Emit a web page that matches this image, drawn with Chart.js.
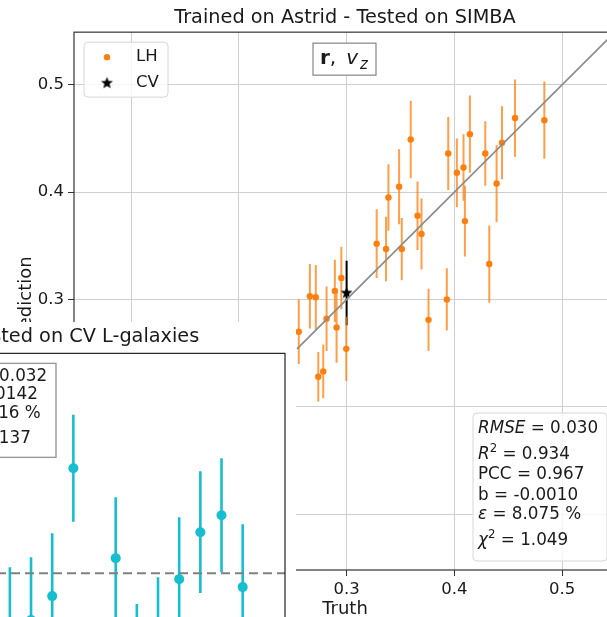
<!DOCTYPE html>
<html>
<head>
<meta charset="utf-8">
<script src="https://cdn.jsdelivr.net/npm/chart.js@4.4.1/dist/chart.umd.min.js"></script>
<style>
  html, body { margin: 0; padding: 0; background: #fff; overflow: hidden; }
  #wrap { position: relative; width: 607px; height: 617px; overflow: hidden; }
  #main { position: absolute; left: 0; top: 0; width: 640px; height: 640px; }
  #cv { position: absolute; left: -320px; top: 322px; width: 616px; height: 400px; }
</style>
</head>
<body>
<div id="wrap">
  <canvas id="main" width="640" height="640"></canvas>
  <canvas id="cv" width="616" height="400"></canvas>
</div>
<script>
// LH test set: true value, predicted mean, 1-sigma error
const lhTruth = [0.2556, 0.2659, 0.2714, 0.2737, 0.2783, 0.2814, 0.2891, 0.2907, 0.2951, 0.2997,
                 0.3279, 0.3366, 0.3388, 0.3487, 0.3512, 0.3595, 0.3658, 0.3695, 0.3760, 0.3930,
                 0.3943, 0.4023, 0.4085, 0.4098, 0.4144, 0.4287, 0.4324, 0.4392, 0.4442, 0.4563, 0.4835];
const lhPred  = [0.270, 0.303, 0.302, 0.228, 0.233, 0.282, 0.308, 0.274, 0.320, 0.254,
                 0.352, 0.347, 0.395, 0.405, 0.347, 0.449, 0.378, 0.361, 0.281, 0.300,
                 0.436, 0.418, 0.423, 0.373, 0.454, 0.436, 0.333, 0.408, 0.446, 0.469, 0.467];
const lhErr   = [0.030, 0.030, 0.030, 0.023, 0.025, 0.030, 0.029, 0.033, 0.029, 0.030,
                 0.032, 0.030, 0.031, 0.035, 0.029, 0.036, 0.032, 0.033, 0.029, 0.029,
                 0.034, 0.032, 0.031, 0.033, 0.036, 0.030, 0.036, 0.036, 0.034, 0.036, 0.036];

// CV mean point
const cvMeanTruth = 0.300;
const cvMeanPred = 0.306;
const cvMeanErr = 0.030;

// identity line ends
const diagRange = [0.254, 0.56];
const tickVals = [0.1, 0.2, 0.3, 0.4, 0.5];

const mainStats = [
  [{t: 'RMSE', it: 1}, {t: ' = 0.030'}],
  [{t: 'R', it: 1}, {t: '2', sup: 1}, {t: ' = 0.934'}],
  [{t: 'PCC = 0.967'}],
  [{t: 'b = -0.0010'}],
  [{t: 'ε', it: 1}, {t: ' = 8.075 %'}],
  [{t: 'χ', it: 1}, {t: '2', sup: 1}, {t: ' = 1.049'}]
];

// CV L-galaxies: simulation index, prediction, error
const cvIndex = [14, 15, 16, 17, 19, 20, 21, 22, 23, 24, 25];
const cvPred  = [0.2755, 0.2765, 0.2885, 0.3525, 0.3075, 0.2555, 0.2685, 0.2970, 0.3205, 0.3290, 0.2930];
const cvErr   = [0.0275, 0.0315, 0.0315, 0.0268, 0.0305, 0.0290, 0.0295, 0.0310, 0.0305, 0.0285, 0.0315];
const cvTruth = 0.30;

const cvStats = [
  [{t: 'RMSE', it: 1}, {t: ' = 0.032'}],
  [{t: 'b = -0.00142'}],
  [{t: 'ε', it: 1}, {t: ' = 10.316 %'}],
  [{t: 'χ', it: 1}, {t: '2', sup: 1, gap: 3}, {t: ' = 10.137'}]
];

const FAMILY = "'DejaVu Sans', sans-serif";
const TXT = '#1a1a1a';
Chart.defaults.font.family = FAMILY;
Chart.defaults.color = TXT;

function starCanvas(r, color) {
  const s = Math.ceil(r * 2 + 2);
  const c = document.createElement('canvas');
  c.width = c.height = s;
  const g = c.getContext('2d');
  g.fillStyle = color;
  g.beginPath();
  for (let k = 0; k < 10; k++) {
    const a = -Math.PI / 2 + k * Math.PI / 5;
    const rr = k % 2 ? r * 0.42 : r;
    g.lineTo(s / 2 + rr * Math.cos(a), s / 2 + rr * Math.sin(a));
  }
  g.closePath();
  g.fill();
  return c;
}
const star = starCanvas(6.3, '#000');

// text with italic / bold / superscript / subscript runs
function drawRuns(ctx, x, y, runs, size) {
  ctx.textBaseline = 'alphabetic';
  ctx.textAlign = 'left';
  ctx.fillStyle = TXT;
  runs.forEach(r => {
    const sz = r.sup || r.sub ? size * 0.7 : size;
    ctx.font = (r.it ? 'italic ' : '') + (r.b ? 'bold ' : '') + sz + 'px ' + FAMILY;
    const dy = r.sup ? -size * 0.42 : r.sub ? size * 0.25 : 0;
    ctx.fillText(r.t, x, y + dy);
    x += ctx.measureText(r.t).width + (r.gap || 0);
  });
  return x;
}

function roundBox(ctx, x, y, w, h, r, fill, stroke, lw) {
  ctx.beginPath();
  ctx.roundRect(x, y, w, h, r);
  ctx.fillStyle = fill;
  ctx.fill();
  ctx.lineWidth = lw;
  ctx.strokeStyle = stroke;
  ctx.stroke();
}

const errorBars = {
  id: 'errorBars',
  beforeDatasetsDraw(chart) {
    const {ctx, chartArea: ca, scales: {x, y}} = chart;
    ctx.save();
    ctx.beginPath();
    ctx.rect(ca.left, ca.top, ca.width, ca.height);
    ctx.clip();
    chart.data.datasets.forEach(ds => {
      if (!ds.errors) return;
      ctx.strokeStyle = ds.errColor;
      ctx.lineWidth = ds.errWidth;
      ds.data.forEach((p, i) => {
        const px = x.getPixelForValue(p.x);
        ctx.beginPath();
        ctx.moveTo(px, y.getPixelForValue(p.y - ds.errors[i]));
        ctx.lineTo(px, y.getPixelForValue(p.y + ds.errors[i]));
        ctx.stroke();
      });
    });
    ctx.restore();
  }
};

const mainDecor = {
  id: 'mainDecor',
  afterDraw(chart) {
    const {ctx, chartArea: ca} = chart;
    ctx.save();
    // spines
    ctx.strokeStyle = '#333';
    ctx.lineWidth = 1.2;
    ctx.strokeRect(ca.left, ca.top, ca.width, ca.height);

    // legend
    const lx = ca.left + 10, ly = ca.top + 10;
    roundBox(ctx, lx, ly, 84, 55, 4, 'rgba(255,255,255,0.8)', '#d6d6d6', 1);
    ctx.fillStyle = '#ff7f0e';
    ctx.beginPath();
    ctx.arc(lx + 23, ly + 15, 3.2, 0, Math.PI * 2);
    ctx.fill();
    ctx.drawImage(star, lx + 23 - star.width / 2, ly + 41 - star.height / 2);
    ctx.font = '16.5px ' + FAMILY;
    ctx.fillStyle = TXT;
    ctx.textBaseline = 'middle';
    ctx.fillText('LH', lx + 52, ly + 15);
    ctx.fillText('CV', lx + 52, ly + 41);

    // feature label box
    const bx = ca.left + ca.width / 2 - 32, by = ca.top + 11;
    ctx.fillStyle = '#fff';
    ctx.fillRect(bx, by, 63, 32);
    ctx.strokeStyle = '#858585';
    ctx.lineWidth = 1.2;
    ctx.strokeRect(bx, by, 63, 32);
    drawRuns(ctx, bx + 7, by + 21, [{t: 'r', b: 1}, {t: ',', gap: 10}, {t: 'v', it: 1}], 20);
    drawRuns(ctx, bx + 47, by + 26, [{t: 'z', it: 1}], 15);

    // statistics box
    const sx = ca.right - 143, sy = ca.bottom - 157;
    roundBox(ctx, sx, sy, 134, 148, 4, 'rgba(255,255,255,0.8)', '#d6d6d6', 1);
    const rows = [19.5, 46, 66, 87, 106, 132];
    mainStats.forEach((runs, i) => drawRuns(ctx, sx + 5, sy + rows[i], runs, 16.8));
    ctx.restore();
  }
};

const axisCommon = {
  type: 'linear',
  afterBuildTicks: s => { s.ticks = tickVals.map(v => ({value: v})); },
  ticks: {callback: v => v.toFixed(1), font: {size: 16.5}, color: TXT, padding: 4, autoSkip: false, maxRotation: 0},
  grid: {color: '#cfcfcf', tickColor: '#333', tickLength: 6, lineWidth: 1},
  border: {display: false}
};

new Chart(document.getElementById('main'), {
  type: 'scatter',
  data: {
    datasets: [
      {
        type: 'line',
        data: diagRange.map(v => ({x: v, y: v})),
        borderColor: '#8c8c8c',
        borderWidth: 1.7,
        pointRadius: 0,
        order: 0
      },
      {
        label: 'CV',
        data: [{x: cvMeanTruth, y: cvMeanPred}],
        pointStyle: star,
        errors: [cvMeanErr],
        errColor: '#000',
        errWidth: 2,
        order: 1
      },
      {
        label: 'LH',
        data: lhTruth.map((t, i) => ({x: t, y: lhPred[i]})),
        pointRadius: 3.2,
        backgroundColor: '#ff7f0e',
        borderWidth: 0,
        errors: lhErr,
        errColor: 'rgba(255,127,14,0.75)',
        errWidth: 2,
        order: 2
      }
    ]
  },
  options: {
    responsive: false,
    animation: false,
    layout: {padding: {left: 0, right: 24, top: 0, bottom: 0}},
    plugins: {
      legend: {display: false},
      tooltip: {enabled: false},
      title: {
        display: true,
        fullSize: false,
        text: 'Trained on Astrid - Tested on SIMBA',
        color: TXT,
        font: {size: 19.3, weight: 'normal'},
        padding: {top: 6.8, bottom: 2.2}
      }
    },
    scales: {
      x: {
        ...axisCommon,
        min: 0.047,
        max: 0.55,
        afterFit: s => { s.height = 70; },
        title: {display: true, text: 'Truth', color: TXT, font: {size: 18}, padding: {top: 0, bottom: 20.2}}
      },
      y: {
        ...axisCommon,
        min: 0.048,
        max: 0.549,
        afterFit: s => { s.width = 74; },
        title: {display: true, text: 'Prediction', color: TXT, font: {size: 18}, padding: {top: 16, bottom: 0}}
      }
    }
  },
  plugins: [errorBars, mainDecor]
});

const cvDecor = {
  id: 'cvDecor',
  beforeDraw(chart) {
    const {ctx, width, height} = chart;
    ctx.save();
    ctx.fillStyle = '#fff';
    ctx.fillRect(0, 0, width, height);
    ctx.restore();
  },
  afterDraw(chart) {
    const {ctx, chartArea: ca} = chart;
    ctx.save();
    ctx.strokeStyle = '#222';
    ctx.lineWidth = 1.2;
    ctx.strokeRect(ca.left, ca.top, ca.width, ca.height);

    // statistics box in the upper left corner
    const left = ca.left + 224, top = ca.top + 10;
    const right = ca.right - 229;
    ctx.fillStyle = '#fff';
    ctx.fillRect(left - 6, top, right - left + 6, 94);
    ctx.strokeStyle = '#999';
    ctx.lineWidth = 1.4;
    ctx.strokeRect(left - 6, top, right - left + 6, 94);
    const rows = [17.5, 36, 55, 80];
    cvStats.forEach((runs, i) => drawRuns(ctx, left, top + rows[i], runs, 16.8));
    ctx.restore();
  }
};

new Chart(document.getElementById('cv'), {
  type: 'scatter',
  data: {
    datasets: [
      {
        type: 'line',
        data: [{x: -0.5, y: cvTruth}, {x: 27, y: cvTruth}],
        borderColor: '#808080',
        borderWidth: 2,
        borderDash: [9, 5],
        pointRadius: 0,
        order: 2
      },
      {
        data: cvIndex.map((k, i) => ({x: k, y: cvPred[i]})),
        pointRadius: 5,
        backgroundColor: '#17becf',
        borderWidth: 0,
        errors: cvErr,
        errColor: '#17becf',
        errWidth: 2.6,
        order: 1
      }
    ]
  },
  options: {
    responsive: false,
    animation: false,
    layout: {padding: {left: 23, right: 11, top: 0, bottom: 20}},
    plugins: {
      legend: {display: false},
      tooltip: {enabled: false},
      title: {
        display: true,
        text: 'Trained on Astrid - Tested on CV L-galaxies',
        color: TXT,
        font: {size: 19.3, weight: 'normal'},
        padding: {top: 3.6, bottom: 4.6}
      }
    },
    scales: {
      x: {type: 'linear', display: false, min: -0.5, max: 27},
      y: {type: 'linear', display: false, min: 0.2355, max: 0.41}
    }
  },
  plugins: [errorBars, cvDecor]
});
</script>
</body>
</html>
